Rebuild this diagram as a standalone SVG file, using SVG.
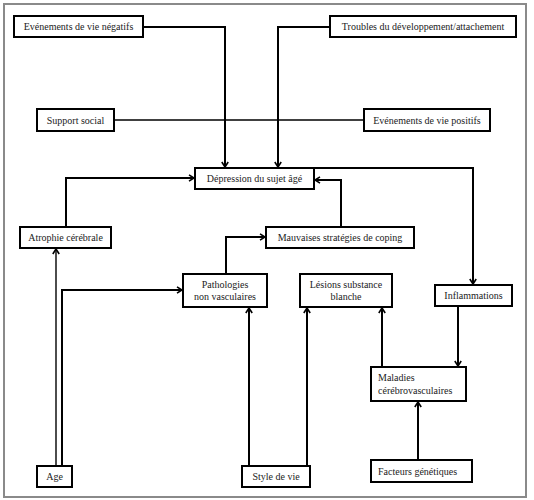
<svg xmlns="http://www.w3.org/2000/svg" width="534" height="500" viewBox="0 0 534 500">
<style>
.box{fill:#fff;stroke:#000;stroke-width:2}
text{font-family:'Liberation Serif','DejaVu Serif',serif;font-size:10px;fill:#222;text-anchor:middle}
text.l{text-anchor:start}
.c{fill:none;stroke:#000;stroke-width:2}
.thin{stroke-width:1.4}
</style>
<defs>
<marker id="ah" markerUnits="userSpaceOnUse" markerWidth="10" markerHeight="10" refX="6" refY="4" orient="auto">
<path d="M1,0.8 L6,4 L1,7.2" fill="none" stroke="#000" stroke-width="1.6"/>
</marker>
</defs>
<rect x="0" y="0" width="534" height="500" fill="#fff"/>
<rect x="4" y="4" width="522" height="493" fill="none" stroke="#8a8a8a" stroke-width="2"/>
<g id="connectors">
<path class="c" d="M143,27 H225 V167" marker-end="url(#ah)"/>
<path class="c" d="M330,27 H278 V167" marker-end="url(#ah)"/>
<path class="c thin" d="M114,120 H364"/>
<path class="c" d="M66,227 V178 H194" marker-end="url(#ah)"/>
<path class="c" d="M341,227 V180 H315" marker-end="url(#ah)"/>
<path class="c" d="M313,168 H473 V284" marker-end="url(#ah)"/>
<path class="c thin" d="M56,466 V249" marker-end="url(#ah)"/>
<path class="c" d="M62,466 V290 H182" marker-end="url(#ah)"/>
<path class="c" d="M226,274 V237 H265" marker-end="url(#ah)"/>
<path class="c" d="M249,466 V308" marker-end="url(#ah)"/>
<path class="c" d="M307,466 V308" marker-end="url(#ah)"/>
<path class="c" d="M382,367 V308" marker-end="url(#ah)"/>
<path class="c" d="M458,306 V366" marker-end="url(#ah)"/>
<path class="c" d="M418,460 V402" marker-end="url(#ah)"/>
</g>
<g id="n-evneg"><rect class="box" x="14" y="16" width="129" height="21"/><text x="78.5" y="30">Evénements de vie négatifs</text></g>
<g id="n-troubles"><rect class="box" x="330" y="16" width="186" height="21"/><text x="423" y="30">Troubles du développement/attachement</text></g>
<g id="n-support"><rect class="box" x="37" y="109" width="77" height="22"/><text x="75.5" y="123.5">Support social</text></g>
<g id="n-evpos"><rect class="box" x="364" y="109" width="126" height="22"/><text x="427" y="123.5">Evénements de vie positifs</text></g>
<g id="n-depression"><rect class="box" x="195" y="168" width="119" height="21"/><text x="254.5" y="182">Dépression du sujet âgé</text></g>
<g id="n-atrophie"><rect class="box" x="20" y="227" width="91" height="21"/><text x="65.5" y="241">Atrophie cérébrale</text></g>
<g id="n-coping"><rect class="box" x="266" y="227" width="148" height="21"/><text x="340" y="241">Mauvaises stratégies de coping</text></g>
<g id="n-patho"><rect class="box" x="183" y="274" width="84" height="33"/><text x="225" y="288">Pathologies</text><text x="225" y="300">non vasculaires</text></g>
<g id="n-lesions"><rect class="box" x="300" y="274" width="92" height="33"/><text x="346" y="288">Lésions substance</text><text x="346" y="300">blanche</text></g>
<g id="n-inflam"><rect class="box" x="435" y="285" width="77" height="21"/><text x="473.5" y="299">Inflammations</text></g>
<g id="n-maladies"><rect class="box" x="371" y="367" width="95" height="34"/><text class="l" x="378" y="381">Maladies</text><text class="l" x="378" y="394">cérébrovasculaires</text></g>
<g id="n-facteurs"><rect class="box" x="371" y="460" width="101" height="22"/><text class="l" x="378" y="474.5">Facteurs génétiques</text></g>
<g id="n-age"><rect class="box" x="37" y="466" width="35" height="21"/><text x="54.5" y="480">Age</text></g>
<g id="n-style"><rect class="box" x="242" y="466" width="68" height="21"/><text x="276" y="480">Style de vie</text></g>
</svg>
